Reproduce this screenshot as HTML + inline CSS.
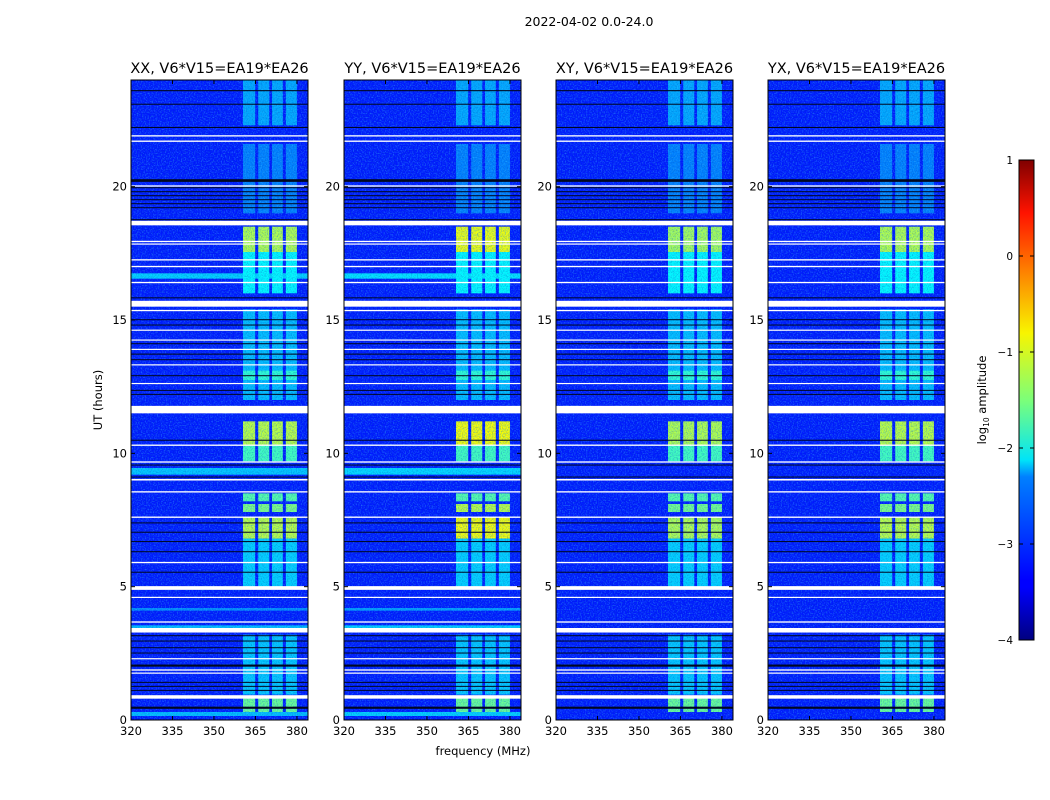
<!DOCTYPE html>
<html><head><meta charset="utf-8">
<style>
body{margin:0;background:#fff;}
svg{display:block;font-family:"DejaVu Sans","Liberation Sans",sans-serif;}
</style></head>
<body>
<svg id="fig" width="1050" height="800" viewBox="0 0 1050 800">
<defs>
<filter id="speck" filterUnits="userSpaceOnUse" x="0" y="0" width="1050" height="800">
<feTurbulence type="fractalNoise" baseFrequency="0.75" numOctaves="1" seed="3" result="n"/>
<feColorMatrix in="n" type="matrix" values="0 0 0 0 0.05  0 0 0 0 0.55  0 0 0 0 1  1.6 0 0 0 -0.72"/>
</filter>
<filter id="dark" filterUnits="userSpaceOnUse" x="0" y="0" width="1050" height="800">
<feTurbulence type="fractalNoise" baseFrequency="0.8" numOctaves="1" seed="9" result="n"/>
<feColorMatrix in="n" type="matrix" values="0 0 0 0 0  0 0 0 0 0.05  0 0 0 0 0.45  1.6 0 0 0 -0.7"/>
</filter>
<linearGradient id="jet" x1="0" y1="1" x2="0" y2="0">
<stop offset="0" stop-color="#000080"/><stop offset="0.11" stop-color="#0000ff"/>
<stop offset="0.125" stop-color="#0000ff"/><stop offset="0.34" stop-color="#0080ff"/>
<stop offset="0.375" stop-color="#00e4f8"/><stop offset="0.5" stop-color="#7cff79"/>
<stop offset="0.64" stop-color="#f8f500"/><stop offset="0.8" stop-color="#ff6400"/>
<stop offset="0.89" stop-color="#ff1300"/><stop offset="1" stop-color="#800000"/>
</linearGradient>
</defs>
<text x="589" y="26" font-size="12.5" text-anchor="middle">2022-04-02 0.0-24.0</text>
<text x="483" y="755" font-size="11.5" text-anchor="middle">frequency (MHz)</text>
<text transform="translate(102,400) rotate(-90)" font-size="11.5" text-anchor="middle">UT (hours)</text>
<g id="panels"></g>
<g id="cbar">
<rect x="1019" y="160" width="15" height="480" fill="url(#jet)" stroke="#000" stroke-width="1"/>
</g>
<text transform="translate(986,400) rotate(-90)" font-size="11.5" text-anchor="middle">log<tspan font-size="7.5" dy="3">10</tspan><tspan dy="-3"> amplitude</tspan></text>
</svg>
<script>
const panelTitles=["XX, V6*V15=EA19*EA26","YY, V6*V15=EA19*EA26","XY, V6*V15=EA19*EA26","YX, V6*V15=EA19*EA26"];
const panelLefts=[131,344,556,768];
const panelGain=[0,0.3,-0.05,0];
const freqTicks=[320,335,350,365,380];
const timeTicks=[0,5,10,15,20];
const cbarTicks=[1,0,-1,-2,-3,-4];
// flagged (white) rows: [startHour,endHour]
const whiteRows=[[21.88,21.93],[21.68,21.73],[20.0,20.05],[18.55,18.72],[17.92,17.97],[17.83,17.87],[17.23,17.28],[16.98,17.03],[16.38,16.43],[15.5,15.72],[15.33,15.38],[14.6,14.64],[14.23,14.27],[13.88,13.92],[13.3,13.34],[12.6,12.64],[11.5,11.78],[10.28,10.33],[9.65,9.7],[8.98,9.04],[8.53,8.58],[7.58,7.63],[5.88,5.93],[4.88,5.02],[4.58,4.62],[3.65,3.7],[3.28,3.45],[2.28,2.32],[1.85,1.9],[1.74,1.78],[0.8,0.93]];
// black rows
const blackRows=[[23.58,23.62],[23.08,23.11],[22.2,22.24],[20.18,20.28],[19.95,19.98],[19.8,19.83],[19.65,19.68],[19.5,19.53],[19.35,19.38],[19.2,19.23],[18.75,18.78],[15.82,15.85],[15.0,15.03],[14.8,14.83],[14.1,14.13],[13.7,13.74],[13.5,13.53],[12.9,12.93],[12.35,12.38],[12.2,12.23],[10.48,10.51],[9.55,9.58],[9.1,9.13],[7.38,7.41],[7.03,7.06],[6.68,6.71],[6.3,6.33],[5.53,5.56],[3.15,3.18],[2.95,2.98],[2.7,2.73],[2.5,2.53],[2.0,2.08],[1.4,1.43],[1.25,1.28],[1.1,1.13],[0.42,0.5]];
// broadband cyan rows (XX/YY only): [start,end,log amp]
const bandRows=[[16.55,16.75,-2.35],[9.2,9.45,-2.4],[3.45,3.55,-2.45],[0.15,0.3,-2.45],[4.1,4.2,-2.7]];
// RFI time intervals: [start,end,log amp]
const rfiTimes=[[22.3,24,-2.55],[19.0,21.6,-2.75],[17.55,18.5,-1.25],[16.0,17.55,-2.15],[12.0,15.4,-2.45],[12.75,13.1,-1.9],[10.3,11.2,-1.2],[9.7,10.3,-1.8],[8.2,8.5,-1.7],[7.8,8.1,-1.5],[6.8,7.6,-1.2],[5.0,6.8,-2.35],[0.95,3.2,-2.4],[0.3,0.85,-1.6]];
// RFI channel blocks [f0,f1] MHz
const rfiChans=[[360.5,364.9],[366.0,370.0],[371.0,374.9],[376.0,380.0]];
const F0=320,F1=384,T0=0,T1=24,TOP=80,BOT=720,PW=177;
function yOf(h){return BOT-(h-T0)/(T1-T0)*(BOT-TOP);}
function jet(v){let t=(v+4)/5;t=Math.max(0,Math.min(1,t));
 const r=Math.min(4*t-1.5,-4*t+4.5),g=Math.min(4*t-0.5,-4*t+3.5),b=Math.min(4*t+0.5,-4*t+2.5);
 const c=x=>Math.round(255*Math.max(0,Math.min(1,x)));return `rgb(${c(r)},${c(g)},${c(b)})`;}
const NS="http://www.w3.org/2000/svg";
function mk(tag,attrs,parent){const e=document.createElementNS(NS,tag);for(const k in attrs)e.setAttribute(k,attrs[k]);parent.appendChild(e);return e;}
const root=document.getElementById('panels');
panelLefts.forEach((L,pi)=>{
 const xOf=f=>L+(f-F0)/(F1-F0)*PW;
 const g=mk('g',{},root);
 
 
 const cp=mk('clipPath',{id:'cp'+pi},g);mk('rect',{x:L,y:TOP,width:PW,height:BOT-TOP},cp);
 const inner=mk('g',{'clip-path':'url(#cp'+pi+')'},g);
 const bg=mk('rect',{x:L,y:TOP,width:PW,height:BOT-TOP,fill:jet(-3.25)},inner);
 
 
 if(pi<2){bandRows.forEach(b=>{const r=mk('rect',{x:L,y:yOf(b[1]),width:PW,height:yOf(b[0])-yOf(b[1]),fill:jet(b[2]+panelGain[pi]*0.3)},inner);
  
  });}
 rfiTimes.forEach(t=>{rfiChans.forEach(c=>{
  const r=mk('rect',{x:xOf(c[0]),y:yOf(t[1]),width:xOf(c[1])-xOf(c[0]),height:yOf(t[0])-yOf(t[1]),fill:jet(t[2]+(t[2]>-1.6?panelGain[pi]:0))},inner);
  
  });});
 mk('rect',{x:L,y:TOP,width:PW,height:BOT-TOP,fill:'#fff',filter:'url(#speck)',opacity:0.8},inner);
 mk('rect',{x:L,y:TOP,width:PW,height:BOT-TOP,fill:'#fff',filter:'url(#dark)',opacity:0.6},inner);
 blackRows.forEach(b=>{const r=mk('rect',{x:L,y:yOf(b[1]),width:PW,height:Math.max(1,yOf(b[0])-yOf(b[1])),fill:'#000820'},inner);
  
  });
 whiteRows.forEach(b=>{const r=mk('rect',{x:L,y:yOf(b[1]),width:PW,height:Math.max(1.2,yOf(b[0])-yOf(b[1])),fill:'#fff'},inner);
  
  });
 mk('rect',{x:L,y:TOP,width:PW,height:BOT-TOP,fill:'none',stroke:'#000','stroke-width':1},g);
 const tt=mk('text',{x:L+PW/2,y:TOP-7,'font-size':14.5,'text-anchor':'middle'},g);tt.textContent=panelTitles[pi];
 
 
 freqTicks.forEach(f=>{const x=xOf(f);
  mk('line',{x1:x,x2:x,y1:BOT,y2:BOT-4,stroke:'#000'},g);mk('line',{x1:x,x2:x,y1:TOP,y2:TOP+4,stroke:'#000'},g);
  const t=mk('text',{x:x,y:BOT+15,'font-size':11.5,'text-anchor':'middle'},g);t.textContent=f;
  
  });
 timeTicks.forEach(h=>{const y=yOf(h);
  mk('line',{x1:L,x2:L+4,y1:y,y2:y,stroke:'#000'},g);mk('line',{x1:L+PW,x2:L+PW-4,y1:y,y2:y,stroke:'#000'},g);
  const t=mk('text',{x:L-4,y:y+4,'font-size':11.5,'text-anchor':'end'},g);t.textContent=h;
  
  });
});
const cb=document.getElementById('cbar');
cbarTicks.forEach(v=>{const y=640-(v+4)/5*480;
 mk('line',{x1:1019,x2:1023,y1:y,y2:y,stroke:'#000'},cb);mk('line',{x1:1034,x2:1030,y1:y,y2:y,stroke:'#000'},cb);
 const t=mk('text',{x:1013,y:y+4,'font-size':10.5,'text-anchor':'end'},cb);t.textContent=(v<0?'\u2212'+(-v):v);
 
 });
</script>
</body></html>
